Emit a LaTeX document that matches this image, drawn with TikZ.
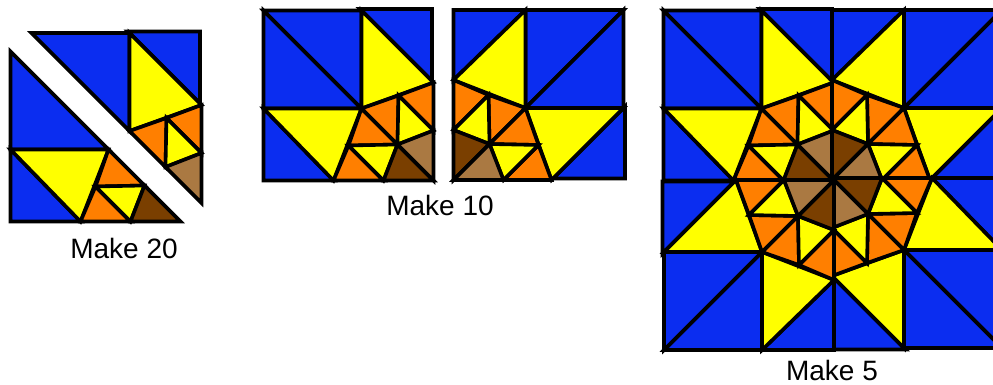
\documentclass[tikz,border=0pt]{standalone}
\usepackage{fontspec}
\setmainfont{Liberation Sans}
\definecolor{quiltblue}{HTML}{0B2DF0}
\definecolor{quiltyellow}{HTML}{FFFF00}
\definecolor{quiltorange}{HTML}{FF7F00}
\definecolor{quilttan}{HTML}{AA7942}
\definecolor{quiltbrown}{HTML}{7A3F00}
\tikzset{
  piece/.style={draw=black, line width=3.6pt, miter limit=4},
  caption/.style={font=\fontsize{28}{30}\selectfont, inner sep=0pt},
  pics/lowerhalf/.style={code={
    \draw[piece, fill=quiltblue] (-85,85) -- (-85,-13) -- (13,-13) -- cycle;
    \draw[piece, fill=quiltblue] (-85,-13) -- (-85,-85) -- (-15,-85) -- cycle;
    \draw[piece, fill=quiltyellow] (-85,-13) -- (13,-13) -- (-15,-85) -- cycle;
    \draw[piece, fill=quiltorange] (13,-13) -- (49,-49) -- (0,-50) -- cycle;
    \draw[piece, fill=quiltorange] (0,-50) -- (35,-85) -- (-15,-85) -- cycle;
    \draw[piece, fill=quiltyellow] (0,-50) -- (49,-49) -- (35,-85) -- cycle;
    \draw[piece, fill=quiltbrown] (49,-49) -- (85,-85) -- (35,-85) -- cycle;
  }},
  pics/upperhalf/.style={code={
    \draw[piece, fill=quiltblue] (-85,85) -- (13,85) -- (13,-13) -- cycle;
    \draw[piece, fill=quiltblue] (11.5,86.5) -- (83.5,86.5) -- (83.5,14.5) -- cycle;
    \draw[piece, fill=quiltyellow] (13,85) -- (85,13) -- (13,-13) -- cycle;
    \draw[piece, fill=quiltorange] (13,-13) -- (50,0) -- (49,-49) -- cycle;
    \draw[piece, fill=quiltorange] (50,0) -- (85,13) -- (85,-35) -- cycle;
    \draw[piece, fill=quiltyellow] (50,0) -- (85,-35) -- (49,-49) -- cycle;
    \draw[piece, fill=quilttan] (49,-49) -- (85,-35) -- (85,-85) -- cycle;
  }}
}
\begin{document}
\begin{tikzpicture}[x=1pt, y=1pt]
  \useasboundingbox (0,0) rectangle (993,-385);
  \clip (0,0) rectangle (993,-385);
  % make 20
  \pic at (95.5,-136.5) {lowerhalf};
  \pic at (116.5,-118) {upperhalf};
  \node[caption] (make20) at (124,-248) {Make 20};
  % make 10 and make 5
  \foreach \cx/\cy/\rot in {348.5/95.5/0, 538.5/95/-90,
      748.5/95.5/0, 917/95/-90, 917/263/180, 749/265/90} {
    \pic[rotate=\rot] at (\cx,-\cy) {lowerhalf};
    \pic[rotate=\rot] at (\cx,-\cy) {upperhalf};
  }
  \node[caption] (make10) at (440,-205) {Make 10};
  \node[caption] (make5) at (832,-370.5) {Make 5};
\end{tikzpicture}
\end{document}
